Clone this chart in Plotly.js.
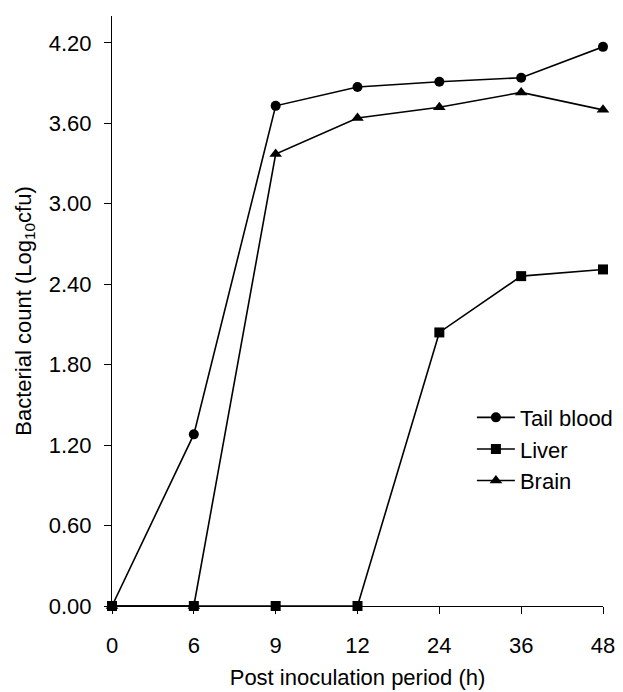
<!DOCTYPE html>
<html>
<head>
<meta charset="utf-8">
<script src="https://cdn.plot.ly/plotly-3.0.1.min.js"></script>
<style>html,body{margin:0;padding:0;background:#fff;}#chart{width:623px;height:692px;}</style>
</head>
<body>
<div id="chart"></div>
<script>
const hours = ["0", "6", "9", "12", "24", "36", "48"];
const tailBlood = [0, 1.28, 3.73, 3.87, 3.91, 3.94, 4.17];
const liver = [0, 0, 0, 0, 2.04, 2.46, 2.51];
const brain = [0, 0, 3.37, 3.64, 3.72, 3.83, 3.70];
const yTicks = [0, 0.6, 1.2, 1.8, 2.4, 3.0, 3.6, 4.2];

const fontFam = "Liberation Sans, Arial, Helvetica, sans-serif";
const fs = 22;
function series(name, y, symbol, size) {
  return {
    x: hours, y: y, name: name, type: "scatter", mode: "lines+markers",
    line: {color: "#000", width: 1.6},
    marker: {symbol: symbol, size: size, color: "#000"},
    cliponaxis: false
  };
}
const data = [
  series("Tail blood", tailBlood, "circle", 10),
  series("Liver", liver, "square", 10),
  series("Brain", brain, "triangle-up", 11)
];
const layout = {
  width: 623, height: 692,
  margin: {l: 112, r: 20, t: 16, b: 86, autoexpand: false},
  paper_bgcolor: "#fff", plot_bgcolor: "#fff",
  font: {family: fontFam, size: fs, color: "#000"},
  showlegend: true,
  legend: {x: 0.733, y: 0.355, xanchor: "left", yanchor: "top",
           bgcolor: "rgba(0,0,0,0)", font: {size: fs}, itemwidth: 38, tracegroupgap: 0},
  xaxis: {
    type: "category", range: [0, 6], showgrid: false, zeroline: false, automargin: false,
    showline: true, linecolor: "#000", linewidth: 1,
    ticks: "outside", ticklen: 7, tickcolor: "#000", tickwidth: 1,
    tickfont: {size: fs}, ticklabelstandoff: 13,
    title: {text: "Post inoculation period (h)", font: {size: fs}, standoff: 12}
  },
  yaxis: {
    range: [0, 4.4], showgrid: false, zeroline: false, automargin: false,
    showline: true, linecolor: "#000", linewidth: 1,
    ticks: "outside", ticklen: 7, tickcolor: "#000", tickwidth: 1,
    tickvals: yTicks, ticktext: yTicks.map(v => v.toFixed(2)),
    tickfont: {size: fs}, ticklabelstandoff: 8,
    title: {text: "Bacterial count (Log<sub>10</sub>cfu)", font: {size: fs}, standoff: 11}
  }
};
Plotly.newPlot("chart", data, layout, {displayModeBar: false, staticPlot: true});
</script>
</body>
</html>
